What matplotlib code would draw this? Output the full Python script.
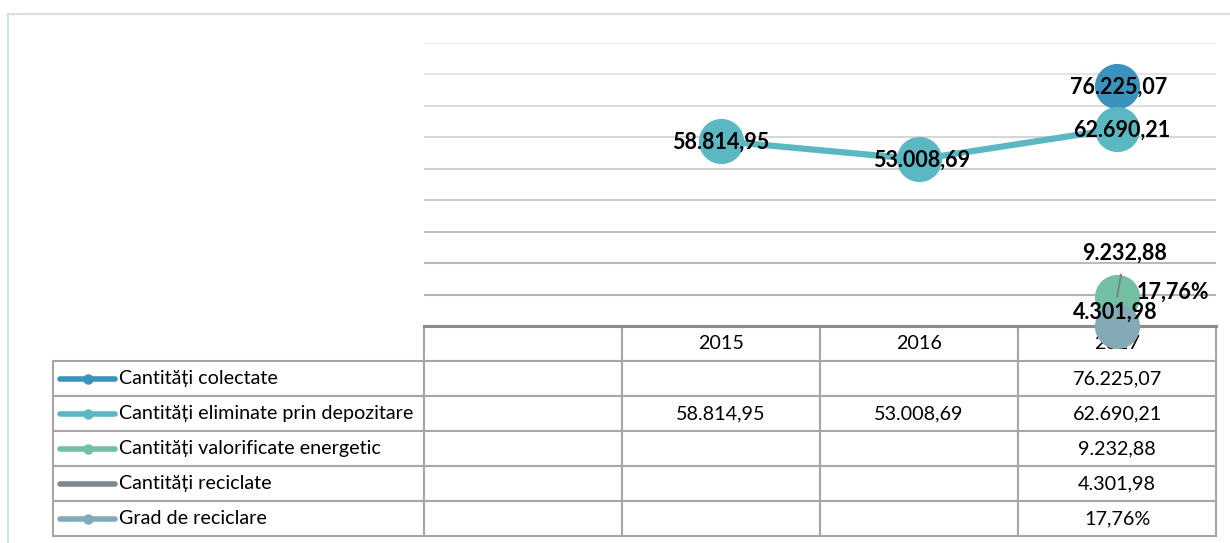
import matplotlib.pyplot as plt
import matplotlib.patches as mpatches
import numpy as np

plt.rcParams['font.family'] = ['Lato', 'DejaVu Sans']

# ---- data ----
categories = ['', '2015', '2016', '2017']
series_names = ['Cantități colectate',
                'Cantități eliminate prin depozitare',
                'Cantități valorificate energetic',
                'Cantități reciclate',
                'Grad de reciclare']
colectate = [np.nan, np.nan, np.nan, 76225.07]
eliminate = [np.nan, 58814.95, 53008.69, 62690.21]
valorificate = [np.nan, np.nan, np.nan, 9232.88]
reciclate = [np.nan, np.nan, np.nan, 4301.98]
grad = [np.nan, np.nan, np.nan, 0.1776]   # fraction, shown as percent

colors = ['#3a93bd', '#5bb8c2', '#72bfa4', '#7a8b8d', '#83aab5']


def fmt_ro(v):
    s = f"{v:,.2f}"
    return s.replace(',', 'X').replace('.', ',').replace('X', '.')


def fmt_pct(v):
    return f"{v * 100:.2f}%".replace('.', ',')


all_series = [colectate, eliminate, valorificate, reciclate, grad]
formatters = [fmt_ro, fmt_ro, fmt_ro, fmt_ro, fmt_pct]

W, H = 1230, 543
fig = plt.figure(figsize=(W / 100, H / 100), dpi=100)
fig.patch.set_facecolor('white')

# outer chart border
fig.patches.append(mpatches.Rectangle((8 / W, -0.05), 1.2, 1 - 14 / H + 0.05,
                                      transform=fig.transFigure, fill=False,
                                      edgecolor='#d6dee8', lw=1.5))

ax_l, ax_r, ax_t, ax_b = 424, 1216, 43, 326
ax = fig.add_axes([ax_l / W, (H - ax_b) / H, (ax_r - ax_l) / W, (ax_b - ax_t) / H])

x = np.arange(len(categories))
ax.set_xlim(-0.5, len(categories) - 0.5)
ax.set_ylim(0, 90000)
ax.set_yticks(np.arange(10000, 90001, 10000))
ax.set_xticks([])
ax.tick_params(axis='y', length=0, labelleft=False)
ax.grid(axis='y', lw=1.5)
grid_greys = np.linspace(0.70, 0.92, 9)
for g, line in zip(grid_greys, ax.get_ygridlines()):
    line.set_color(str(g))
ax.set_axisbelow(True)
for s in ['top', 'left', 'right']:
    ax.spines[s].set_visible(False)
ax.spines['bottom'].set_color('#8c8c8c')
ax.spines['bottom'].set_linewidth(2.2)

# ---- series ----
for vals, c, name in zip(all_series, colors, series_names):
    mk = None if name == 'Cantități reciclate' else 'o'
    ax.plot(x, vals, color=c, lw=4.5, marker=mk, ms=31.5, clip_on=False,
            solid_capstyle='round', zorder=3)

# ---- data labels (offsets in pixels) ----
lab_kw = dict(textcoords='offset pixels', fontsize=15.5, fontweight='bold',
              color='black', va='center', zorder=6, annotation_clip=False)
ax.annotate(fmt_ro(colectate[3]), (3, colectate[3]), xytext=(2, -1), ha='center', **lab_kw)
elim_off = [None, (0, -1), (3, -1), (5, -1)]
for i in range(1, 4):
    ax.annotate(fmt_ro(eliminate[i]), (i, eliminate[i]), xytext=elim_off[i], ha='center', **lab_kw)
ax.annotate(fmt_ro(valorificate[3]), (3, valorificate[3]), xytext=(8, 44), ha='center',
            arrowprops=dict(arrowstyle='-', color='#808080', lw=1.4, shrinkA=6, shrinkB=0),
            **lab_kw)
ax.annotate(fmt_ro(reciclate[3]), (3, reciclate[3]), xytext=(-2, 0), ha='center', **lab_kw)
ax.annotate(fmt_pct(grad[3]), (3, grad[3]), xytext=(20, 34), ha='left', **lab_kw)

# ---- data table ----
cell_text = [[name] + ['' if np.isnan(v) else f(v) for v in vals]
             for name, vals, f in zip(series_names, all_series, formatters)]
lab_w = ax_l - 53
cat_w = (ax_r - ax_l) / len(categories)
widths = [lab_w] + [cat_w] * len(categories)
tot = sum(widths)
tab_top, tab_bot = 326, 536
bbox = [(53 - ax_l) / (ax_r - ax_l), -(tab_bot - tab_top) / (ax_b - ax_t),
        tot / (ax_r - ax_l), (tab_bot - tab_top) / (ax_b - ax_t)]
table = ax.table(cellText=cell_text, colLabels=[''] + categories,
                 colWidths=[w / tot for w in widths], cellLoc='center',
                 bbox=bbox, zorder=1)
table.auto_set_font_size(False)
table.set_fontsize(14.2)
for (r, c), cell in table.get_celld().items():
    cell.set_edgecolor('#a6a6a6')
    cell.set_linewidth(1.5)
    cell.get_text().set_color('black')
    if c == 0:
        cell.get_text().set_ha('left')
        cell.PAD = 66 / lab_w
table[(0, 0)].set_visible(False)

# legend glyphs inside the first column
row_h = (tab_bot - tab_top) / (len(series_names) + 1)
for i, (c, name) in enumerate(zip(colors, series_names)):
    yc = -((i + 1) * row_h + row_h / 2) / (ax_b - ax_t)
    x0, x1 = (60 - ax_l) / (ax_r - ax_l), (115 - ax_l) / (ax_r - ax_l)
    ax.plot([x0, x1], [yc, yc], color=c, lw=4, solid_capstyle='round',
            transform=ax.transAxes, clip_on=False, zorder=4)
    if name != 'Cantități reciclate':
        ax.plot([(x0 + x1) / 2], [yc], marker='o', ms=6.5, color=c,
                transform=ax.transAxes, clip_on=False, zorder=4)

fig.savefig('out.png', dpi=100)
